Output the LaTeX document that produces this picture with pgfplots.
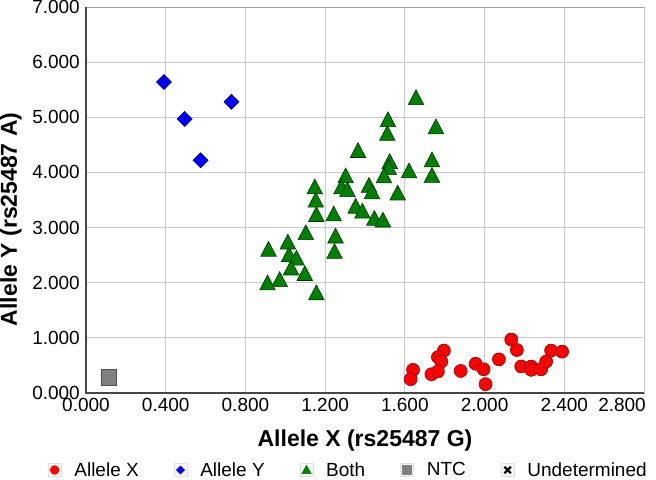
\documentclass[border=0pt]{standalone}
\usepackage{pgfplots}
\pgfplotsset{compat=1.18}
\usepackage{fontspec}
\setmainfont{Liberation Sans}
\definecolor{gridc}{RGB}{200,200,200}
\definecolor{axc}{RGB}{70,70,70}
\definecolor{boxc}{RGB}{160,160,160}
\definecolor{redf}{RGB}{255,0,0}
\definecolor{redd}{RGB}{140,0,0}
\definecolor{greenf}{RGB}{0,128,0}
\definecolor{greend}{RGB}{0,50,0}
\definecolor{bluef}{RGB}{0,0,255}
\definecolor{blued}{RGB}{0,0,110}
\definecolor{grayf}{RGB}{128,128,128}
\definecolor{grayd}{RGB}{80,80,80}
\begin{document}
\begin{tikzpicture}
\path[use as bounding box] (-86bp,-87bp) rectangle (570bp,393bp);
\begin{axis}[
  at={(0,0)}, anchor=south west,
  scale only axis, width=558bp, height=386bp,
  xmin=0, xmax=2.8, ymin=0, ymax=7,
  xtick={0,0.4,0.8,1.2,1.6,2.0,2.4},
  extra x ticks={2.8},
  extra x tick style={xticklabel style={anchor=base east, xshift=2bp}},
  ytick={0,1,2,3,4,5,6,7},
  major tick length=0pt,
  grid=major,
  grid style={gridc, line width=0.8bp},
  axis line style={boxc, line width=0.8bp},
  /pgf/number format/.cd, fixed, fixed zerofill, precision=3, assume math mode=true,
  /pgfplots/.cd,
  tick label style={font=\fontsize{19bp}{20bp}\selectfont, inner sep=0pt},
  xticklabel style={anchor=base, yshift=-18bp},
  yticklabel style={anchor=east, xshift=-6bp},
  xlabel={Allele X (rs25487 G)},
  ylabel={Allele Y (rs25487 A)},
  label style={font=\fontsize{23bp}{25bp}\selectfont\bfseries, inner sep=0pt},
  xlabel style={at={(axis description cs:0.5,0)}, anchor=base, yshift=-53bp},
  ylabel style={at={(axis description cs:0,0.45)}, anchor=base, yshift=69bp},
  legend columns=-1,
  legend style={draw=none, fill=none, at={(axis description cs:0.5,0)}, anchor=center,
    xshift=-17.7bp, yshift=-77bp,
    font=\fontsize{19bp}{21bp}\selectfont,
    nodes={inner sep=0pt},
    /tikz/every odd column/.append style={column sep=13bp},
    /tikz/every even column/.append style={column sep=35bp}},
  clip=false,
]
\addplot[only marks, mark=*, mark size=6.5bp, mark options={fill=redf, draw=redd, line width=0.6bp},
  legend image code/.code={\draw[gray!25, fill=gray!6, line width=0.5bp] (-6.5bp,-6.5bp) rectangle (6.5bp,6.5bp);
    \draw[only marks, mark=*, mark size=4.5bp, mark options={fill=redf, draw=redf}] plot coordinates {(0,0)};}]
coordinates {
(1.641,0.42) (1.629,0.25) (1.796,0.77) (1.766,0.65) (1.783,0.57) (1.733,0.34) (1.766,0.39)
(1.880,0.40) (1.955,0.53) (1.995,0.43) (2.005,0.16) (2.072,0.61) (2.134,0.97) (2.162,0.78)
(2.184,0.48) (2.234,0.48) (2.234,0.42) (2.284,0.43) (2.309,0.57) (2.334,0.77) (2.389,0.75)
};
\addlegendentry{Allele X}
\addplot[only marks, mark=square*, mark size=5.3bp, mark options={rotate=45, fill=bluef, draw=blued, line width=0.6bp},
  legend image code/.code={\draw[gray!25, fill=gray!6, line width=0.5bp] (-6.5bp,-6.5bp) rectangle (6.5bp,6.5bp);
    \draw[only marks, mark=square*, mark size=2.9bp, mark options={rotate=45, fill=bluef, draw=bluef}] plot coordinates {(0,0)};}]
coordinates {
(0.391,5.64) (0.730,5.28) (0.495,4.97) (0.575,4.22)
};
\addlegendentry{Allele Y}
\addplot[only marks, mark=triangle*, mark size=9bp, mark options={yscale=1.1, fill=greenf, draw=greend, line width=0.6bp},
  legend image code/.code={\draw[gray!25, fill=gray!6, line width=0.5bp] (-6.5bp,-6.5bp) rectangle (6.5bp,6.5bp);
    \draw[only marks, mark=triangle*, mark size=5.5bp, mark options={yshift=-0.8bp, fill=greenf, draw=greenf}] plot coordinates {(0,0)};}]
coordinates {
(1.656,5.32) (1.515,4.92) (1.512,4.67) (1.756,4.79) (1.365,4.36) (1.524,4.16) (1.519,4.05)
(1.495,3.90) (1.621,3.99) (1.736,4.19) (1.736,3.91) (1.303,3.90) (1.282,3.70) (1.312,3.65)
(1.148,3.70) (1.420,3.73) (1.435,3.61) (1.564,3.59) (1.153,3.46) (1.156,3.20) (1.243,3.21)
(1.353,3.35) (1.387,3.26) (1.447,3.13) (1.490,3.10) (1.103,2.87) (1.252,2.81) (1.247,2.53)
(1.013,2.70) (0.916,2.57) (1.019,2.47) (1.056,2.41) (1.029,2.23) (1.098,2.13) (0.972,2.02)
(0.911,1.96) (1.156,1.78)
};
\addlegendentry{Both}
\addplot[only marks, mark=square*, mark size=7.8bp, mark options={fill=grayf, draw=grayd, line width=0.6bp, rounded corners=1.5bp},
  legend image code/.code={\draw[gray!25, fill=gray!6, line width=0.5bp] (-6.5bp,-6.5bp) rectangle (6.5bp,6.5bp);
    \draw[only marks, mark=square*, mark size=4.6bp, mark options={fill=grayf, draw=grayf}] plot coordinates {(0,0)};}]
coordinates {
(0.114,0.29)
};
\addlegendentry{NTC}
\addlegendimage{legend image code/.code={\draw[gray!25, fill=gray!6, line width=0.5bp] (-6.5bp,-6.5bp) rectangle (6.5bp,6.5bp);
    \draw[black, line width=2.2bp] (-3.3bp,-3.3bp) -- (3.3bp,3.3bp) (-3.3bp,3.3bp) -- (3.3bp,-3.3bp);}}
\addlegendentry{Undetermined}
\draw[axc, line width=1.6bp] (rel axis cs:0,1) -- (rel axis cs:0,0) -- (rel axis cs:1,0);
\end{axis}
\end{tikzpicture}
\end{document}
